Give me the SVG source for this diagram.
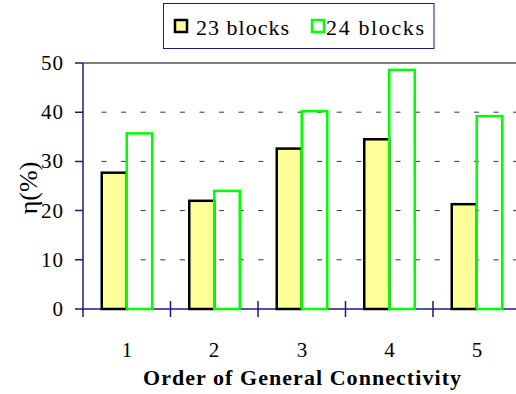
<svg xmlns="http://www.w3.org/2000/svg" width="516" height="394" viewBox="0 0 516 394">
  <style>
    text { font-family: "Liberation Serif", "DejaVu Serif", serif; }
    .tick-label { font-size: 21px; }
    .grid { stroke: #333; stroke-width: 1; stroke-dasharray: 5 14.6; fill: none; }
    .axis { stroke: #1a1a80; stroke-width: 1.5; fill: none; }
    .bar-a { fill: #ffff99; stroke: #000; stroke-width: 2.5; }
    .bar-b { fill: none; stroke: #00ff00; stroke-width: 2.5; }
  </style>
  <rect width="516" height="394" fill="#fff"/>

  <!-- legend -->
  <g id="legend">
    <rect x="163.5" y="3.5" width="270.5" height="45" fill="#fff" stroke="#1a1a80" stroke-width="1"/>
    <rect x="175" y="20" width="12" height="12" class="bar-a" stroke-width="2"/>
    <text x="196" y="35" font-size="22" textLength="93" lengthAdjust="spacing">23 blocks</text>
    <rect x="312" y="20" width="12" height="12" class="bar-b"/>
    <text x="326" y="35" font-size="22" textLength="98" lengthAdjust="spacing">24 blocks</text>
  </g>

  <!-- plot frame and gridlines -->
  <g id="grid">
    <line x1="83" y1="63" x2="516" y2="63" stroke="#808080" stroke-width="2"/>
    <line class="grid" x1="101.5" y1="112.2" x2="516" y2="112.2"/>
    <line class="grid" x1="101.5" y1="161.4" x2="516" y2="161.4"/>
    <line class="grid" x1="101.5" y1="210.6" x2="516" y2="210.6"/>
    <line class="grid" x1="101.5" y1="259.8" x2="516" y2="259.8"/>
  </g>

  <!-- axes -->
  <g id="axes">
    <line class="axis" x1="83" y1="63" x2="83" y2="317"/>
    <line class="axis" x1="83" y1="309" x2="516" y2="309"/>
    <path class="axis" d="M75 63H83M75 112.2H83M75 161.4H83M75 210.6H83M75 259.8H83M75 309H83"/>
    <path class="axis" d="M170.5 301V317M258 301V317M345.5 301V317M433 301V317"/>
  </g>

  <!-- bars -->
  <g id="series-23">
    <rect class="bar-a" x="101.75" y="172.7" width="25" height="136.3"/>
    <rect class="bar-a" x="189.25" y="200.8" width="25" height="108.2"/>
    <rect class="bar-a" x="276.75" y="148.6" width="25" height="160.4"/>
    <rect class="bar-a" x="364.25" y="139.3" width="25" height="169.7"/>
    <rect class="bar-a" x="451.75" y="204.2" width="25" height="104.8"/>
  </g>
  <g id="series-24">
    <rect class="bar-b" x="126.75" y="133.4" width="25.5" height="175.6"/>
    <rect class="bar-b" x="214.25" y="190.9" width="25.5" height="118.1"/>
    <rect class="bar-b" x="301.75" y="111.2" width="25.5" height="197.8"/>
    <rect class="bar-b" x="389.25" y="69.9" width="25.5" height="239.1"/>
    <rect class="bar-b" x="476.75" y="116.1" width="25.5" height="192.9"/>
  </g>

  <!-- value axis labels -->
  <g id="y-labels" class="tick-label" text-anchor="end">
    <text x="63" y="70" textLength="22">50</text>
    <text x="63" y="119.2" textLength="22">40</text>
    <text x="63" y="168.4" textLength="22">30</text>
    <text x="63" y="217.6" textLength="22">20</text>
    <text x="63" y="266.8" textLength="22">10</text>
    <text x="63" y="316">0</text>
  </g>
  <text id="y-title" transform="translate(37 188) rotate(-90)" text-anchor="middle" font-size="26">η(%)</text>

  <!-- category labels -->
  <g id="x-labels" class="tick-label" text-anchor="middle">
    <text x="127" y="357">1</text>
    <text x="214" y="357">2</text>
    <text x="302" y="357">3</text>
    <text x="389.5" y="357">4</text>
    <text x="477" y="357">5</text>
  </g>
  <text id="x-title" x="143" y="385" font-size="22" font-weight="bold" textLength="318" lengthAdjust="spacing">Order of General Connectivity</text>
</svg>
